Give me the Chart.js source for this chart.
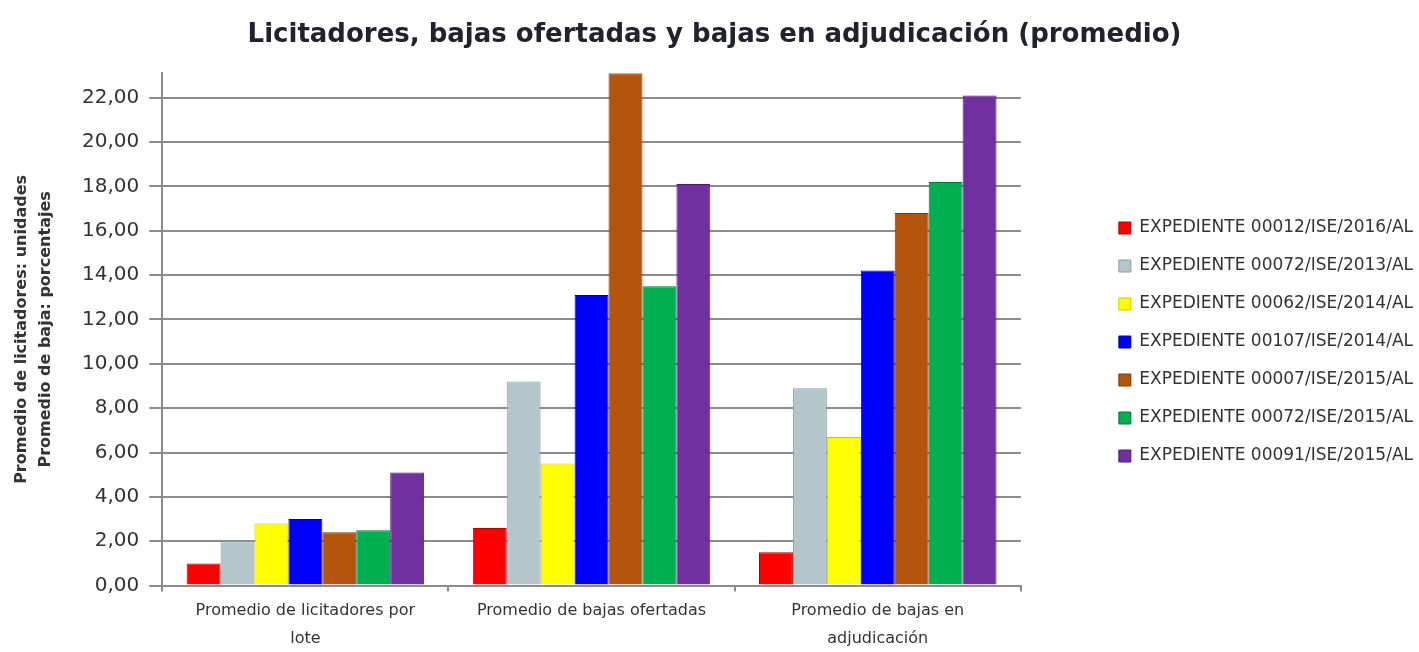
<!DOCTYPE html>
<html>
<head>
<meta charset="utf-8">
<script src="https://cdn.jsdelivr.net/npm/chart.js@4/dist/chart.umd.min.js"></script>
<style>
  html, body { margin: 0; padding: 0; background: #fff; }
  #wrap { width: 1419px; height: 652px; }
</style>
</head>
<body>
<div id="wrap"><canvas id="grafica"></canvas></div>
<script>
// categorías y series
const categorias = [
  ['Promedio de licitadores por', 'lote'],
  'Promedio de bajas ofertadas',
  ['Promedio de bajas en', 'adjudicación']
];
const expedientes = [
  'EXPEDIENTE 00012/ISE/2016/AL',
  'EXPEDIENTE 00072/ISE/2013/AL',
  'EXPEDIENTE 00062/ISE/2014/AL',
  'EXPEDIENTE 00107/ISE/2014/AL',
  'EXPEDIENTE 00007/ISE/2015/AL',
  'EXPEDIENTE 00072/ISE/2015/AL',
  'EXPEDIENTE 00091/ISE/2015/AL'
];
const exp00012_2016 = [1.0, 2.6, 1.5];
const exp00072_2013 = [2.0, 9.2, 8.9];
const exp00062_2014 = [2.8, 5.5, 6.7];
const exp00107_2014 = [3.0, 13.1, 14.2];
const exp00007_2015 = [2.4, 23.1, 16.8];
const exp00072_2015 = [2.5, 13.5, 18.2];
const exp00091_2015 = [5.1, 18.1, 22.1];
const ejeYMax = 23.1;

const series = [exp00012_2016, exp00072_2013, exp00062_2014, exp00107_2014, exp00007_2015, exp00072_2015, exp00091_2015];
const colores = ['#FF0000', '#B4C6CC', '#FFFF00', '#0000FF', '#B5540C', '#00B050', '#7030A0'];
const bordes  = ['#B00000', '#8A9EA6', '#C8C800', '#0000A8', '#7E3A06', '#007A38', '#4B1F6E'];

// separa la leyenda del área del gráfico
const HUECO = 73;
const legendGap = {
  id: 'legendGap',
  afterInit(chart) {
    const fit = chart.legend.fit;
    chart.legend.fit = function () {
      fit.call(this);
      this.width += HUECO;
    };
  },
  afterLayout(chart) {
    chart.legend.left += HUECO + 4;
    chart.legend.right += 4;
    chart.legend.top += 10;
    chart.legend.bottom += 10;
  }
};

const graph = document.querySelector('#grafica');

const data = {
  labels: categorias,
  datasets: expedientes.map((nombre, i) => ({
    label: nombre,
    data: series[i],
    backgroundColor: colores[i],
    borderColor: bordes[i],
    borderWidth: 1
  }))
};

const config = {
  type: 'bar',
  data: data,
  plugins: [legendGap],
  options: {
    responsive: true,
    maintainAspectRatio: false,
    animation: false,
    layout: { padding: { left: 10, right: 0, top: 6, bottom: -6 } },
    datasets: {
      bar: { categoryPercentage: 0.83, barPercentage: 1.0 }
    },
    plugins: {
      title: {
        display: true,
        text: 'Licitadores, bajas ofertadas y bajas en adjudicación (promedio)',
        color: '#22222e',
        font: { family: 'DejaVu Sans', size: 26, weight: 'bold' },
        padding: { top: 14, bottom: 22 }
      },
      legend: {
        position: 'right',
        labels: {
          color: '#333',
          font: { family: 'DejaVu Sans', size: 17 },
          boxWidth: 12,
          boxHeight: 12,
          padding: 21
        }
      },
      tooltip: { enabled: false }
    },
    scales: {
      x: {
        grid: { drawOnChartArea: false, drawTicks: true, tickLength: 6, color: '#8c8c8c', lineWidth: 2 },
        border: { color: '#8c8c8c', width: 2 },
        ticks: {
          color: '#333',
          font: { family: 'DejaVu Sans', size: 16, lineHeight: 1.7 },
          maxRotation: 0,
          padding: 6
        }
      },
      y: {
        min: 0,
        max: ejeYMax,
        afterBuildTicks: (scale) => {
          scale.ticks = scale.ticks.filter(t => Math.abs(t.value % 2) < 1e-6);
        },
        grid: { color: '#8c8c8c', lineWidth: 2, tickLength: 13 },
        border: { color: '#8c8c8c', width: 2 },
        ticks: {
          stepSize: 2,
          color: '#333',
          font: { family: 'DejaVu Sans', size: 20 },
          padding: 10,
          callback: (v) => v.toFixed(2).replace('.', ',')
        },
        title: {
          display: true,
          text: ['Promedio de licitadores: unidades', 'Promedio de baja: porcentajes'],
          color: '#333',
          font: { family: 'DejaVu Sans', size: 16, weight: 'bold', lineHeight: 1.5 },
          padding: { top: 0, bottom: 14 }
        }
      }
    }
  }
};
new Chart(graph, config);
</script>
</body>
</html>
